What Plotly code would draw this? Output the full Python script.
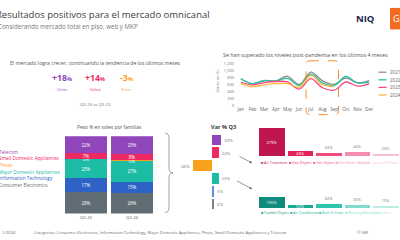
import plotly.graph_objects as go

W, H = 400, 240
def px(x): return x / W
def py(y): return 1 - y / H

# ---------------- data ----------------
months = ["Jan", "Feb", "Mar", "Apr", "May", "Jun", "Jul", "Aug", "Sep", "Oct", "Nov", "Dec"]
sales_2021 = [760, 620, 700, 700, 830, 590, 950, 700, 600, 780, 640, 715]
sales_2022 = [760, 610, 710, 690, 770, 570, 890, 640, 560, 825, 640, 665]
sales_2023 = [665, 580, 650, 680, 670, 460, 760, 500, 430, 665, 545, 620]
sales_2024 = [620, 530, 580, 620, 620, 515, 855, 590, 540]
years = ["2021", "2022", "2023", "2024"]

periods = ["Q3-23", "Q3-24"]
families = ["Consumer Electronics", "Information Technology", "Major Domestic Appliances",
            "Photo", "Small Domestic Appliances", "Telecom"]
share_ce = [28, 26]
share_it = [17, 15]
share_mda = [25, 27]
share_photo = [0.4, 0.4]
share_sda = [7, 8]
share_tel = [22, 23]

var_families = ["Telecom", "Small Domestic Appliances", "Photo",
                "Major Domestic Appliances", "Information Technology", "Consumer Electronics"]
var_q3 = [33, 24, -66, 23, 5, 6]

sda_cats = ["Air Treatment", "Hair Dryers", "Hair Stylers", "Hot Bever. Makers", "El. Juicers/Presses"]
sda_growth = [279, 48, 33, 44, 24]
mda_cats = ["Tumble Dryers", "Air Conditioners", "Built In Hobs", "Washing Machines", "Cookers"]
mda_growth = [105, 32, 34, 30, 15]

kpi_values = ["+18", "+14", "-3"]
kpi_labels = ["Units", "Value", "Price"]

# ---------------- styles ----------------
FONT = "Open Sans"
year_colors = ["#8f8f8f", "#22c4a6", "#f2477b", "#fdb53c"]
fam_colors = {
    "Consumer Electronics": "#616d75",
    "Information Technology": "#2e62c6",
    "Major Domestic Appliances": "#1dbda5",
    "Photo": "#f9a11b",
    "Small Domestic Appliances": "#ef2a62",
    "Telecom": "#9146bb",
}
var_colors = {
    "Consumer Electronics": "#7a8590",
    "Information Technology": "#5b8fe0",
    "Major Domestic Appliances": "#1dbda5",
    "Photo": "#f9a11b",
    "Small Domestic Appliances": "#ef2a62",
    "Telecom": "#9146bb",
}
sda_colors = ["#bf1650", "#e3215b", "#ef4b7c", "#f48dac", "#f9bfd1"]
mda_colors = ["#0f8c7c", "#17a893", "#2fc5ae", "#80dccc", "#bdece4"]
kpi_colors = ["#9146bb", "#ef2a62", "#f9a11b"]

fig = go.Figure()

# ---- line chart ----
for name, vals, col in zip(years, [sales_2021, sales_2022, sales_2023, sales_2024], year_colors):
    fig.add_trace(go.Scatter(x=months[:len(vals)], y=vals, mode="lines",
                             line=dict(color=col, width=1.3, shape="spline", smoothing=1),
                             xaxis="x", yaxis="y", showlegend=False, hoverinfo="skip"))

# ---- stacked share bars ----
share_series = [share_ce, share_it, share_mda, share_photo, share_sda, share_tel]
for fam, vals in zip(families, share_series):
    fig.add_trace(go.Bar(x=periods, y=vals, width=0.913, marker=dict(color=fam_colors[fam], line=dict(width=0)),
                         text=[f"{round(v)}%" for v in vals], textposition="inside", textangle=0,
                         constraintext="none", insidetextanchor="middle",
                         textfont=dict(size=4.5, color="white", family=FONT),
                         xaxis="x2", yaxis="y2", showlegend=False, hoverinfo="skip"))

# ---- var % bars ----
fig.add_trace(go.Bar(x=var_q3, y=var_families, orientation="h", width=0.8,
                     marker=dict(color=[var_colors[f] for f in var_families], line=dict(width=0)),
                     text=[f"{v}%" for v in var_q3], textposition="outside", cliponaxis=False,
                     textfont=dict(size=4.3, color="#777", family=FONT),
                     xaxis="x3", yaxis="y3", showlegend=False, hoverinfo="skip"))

# ---- detail bars ----
def detail(cats, vals, cols, xa, ya):
    pos = ["inside", "inside", "outside", "outside", "outside"]
    fig.add_trace(go.Bar(x=cats, y=vals, width=0.896, marker=dict(color=cols, line=dict(width=0)),
                         text=[f"{v}%" for v in vals], textposition=pos, textangle=0,
                         constraintext="none", insidetextanchor="middle", cliponaxis=False,
                         insidetextfont=dict(size=4, color="white", family=FONT),
                         outsidetextfont=dict(size=4, color="#777", family=FONT),
                         xaxis=xa, yaxis=ya, showlegend=False, hoverinfo="skip"))

detail(sda_cats, sda_growth, sda_colors, "x4", "y4")
detail(mda_cats, mda_growth, mda_colors, "x5", "y5")

hidden = dict(visible=False, showgrid=False, zeroline=False, fixedrange=True)

fig.update_layout(
    width=W, height=H, margin=dict(l=0, r=0, t=0, b=0),
    paper_bgcolor="white", plot_bgcolor="rgba(0,0,0,0)",
    barmode="stack", font=dict(family=FONT, color="#555"),
    xaxis=dict(domain=[px(235), px(375)], range=[-0.5, 11.5], anchor="y", showgrid=False, zeroline=False,
               showline=False, ticks="", tickfont=dict(size=4.6, color="#666")),
    yaxis=dict(domain=[py(104.3), py(61.7)], range=[0, 1200], anchor="x",
               tickvals=[0, 200, 400, 600, 800, 1000, 1200],
               tickformat=",", showgrid=False, zeroline=False, showline=False, ticks="",
               tickfont=dict(size=4, color="#777")),
    xaxis2=dict(domain=[px(63), px(155)], range=[-0.5, 1.5], anchor="y2", showgrid=False, zeroline=False,
                ticks="", tickfont=dict(size=4.3, color="#666")),
    yaxis2=dict(domain=[py(215), py(136)], range=[0, 99.4], anchor="x2", **hidden),
    xaxis3=dict(domain=[px(192), px(241)], range=[-70.6, 102.4], anchor="y3", **hidden),
    yaxis3=dict(domain=[py(212.2), py(133)], range=[5.5, -0.5], type="category", anchor="x3",
                categoryarray=var_families, **hidden),
    xaxis4=dict(domain=[px(257.7), 1.0], range=[-0.5, 4.5], anchor="y4", **hidden),
    yaxis4=dict(domain=[py(156.7), py(125.1)], range=[0, 300], anchor="x4", **hidden),
    xaxis5=dict(domain=[px(257.7), 1.0], range=[-0.5, 4.5], anchor="y5", **hidden),
    yaxis5=dict(domain=[py(209.3), py(177.7)], range=[0, 300], anchor="x5", **hidden),
)

anns = []
def ann(text, x, y, size, color="#555", xanchor="left", **kw):
    anns.append(dict(text=text, x=px(x), y=py(y), xref="paper", yref="paper", showarrow=False,
                     xanchor=xanchor, yanchor="middle", font=dict(size=size, color=color, family=FONT), **kw))

# header
ann("Resultados positivos para el mercado omnicanal", -6.5, 12, 9.5, "#404040")
ann("Considerando mercado total en piso, web y MKP", -4.5, 24, 6.2, "#777")
ann("<b>NIQ</b>", 354, 15.5, 9.5, "#1b1f4b")
ann("GfK", 391, 16, 9, "white")

# KPI block
ann("El mercado logra crecer, continuando la tendencia de los últimos meses", 8, 61.5, 5.1, "#555")
for val, lab, col, cx in zip(kpi_values, kpi_labels, kpi_colors, [61.5, 95, 126.5]):
    ann(f"<b>{val}</b><span style='font-size:5.5px'><b>%</b></span>", cx, 77, 8.8, col, xanchor="center")
    ann(lab, cx, 88.3, 4.2, col, xanchor="center")
ann("Q3-24 vs Q3-23", 95, 102.7, 4.3, "#777", xanchor="center")

# line chart texts
ann("Se han superado los niveles post-pandemia en los últimos 4 meses", 305.5, 53.3, 5.3, "#555", xanchor="center")
ann("Venta en S/.", 217.5, 79, 4.3, "#777", xanchor="center", textangle=-90)
for i, (name, col) in enumerate(zip(years, year_colors)):
    yy = 70.7 + i * 7.75
    fig.add_shape(type="line", xref="paper", yref="paper", x0=px(378.5), x1=px(386.5), y0=py(yy), y1=py(yy),
                  line=dict(color=col, width=1.3))
    ann(name, 388, yy, 4.5, "#666")

# dashed highlight box
x0, x1, y0, y1, r = 306, 338.5, 59, 114, 4
path = (f"M {px(x0+r)},{py(y0)} L {px(x1-r)},{py(y0)} Q {px(x1)},{py(y0)} {px(x1)},{py(y0+r)} "
        f"L {px(x1)},{py(y1-r)} Q {px(x1)},{py(y1)} {px(x1-r)},{py(y1)} L {px(x0+r)},{py(y1)} "
        f"Q {px(x0)},{py(y1)} {px(x0)},{py(y1-r)} L {px(x0)},{py(y0+r)} Q {px(x0)},{py(y0)} {px(x0+r)},{py(y0)} Z")
fig.add_shape(type="path", xref="paper", yref="paper", path=path,
              line=dict(color="#f58a2c", width=1, dash="dash"))

# GfK box
fig.add_shape(type="rect", xref="paper", yref="paper", x0=px(390), x1=px(412), y0=py(27), y1=py(5),
              fillcolor="#f26b21", line=dict(width=0), layer="below")

# stacked chart texts
ann("Peso % en soles por familias", 109, 126.7, 4.9, "#555", xanchor="center")
legend_y = {"Telecom": 152, "Small Domestic Appliances": 158.8, "Photo": 165.7,
            "Major Domestic Appliances": 172.3, "Information Technology": 179, "Consumer Electronics": 185.7}
for fam in reversed(families):
    ann(fam, -3, legend_y[fam], 4.8, fam_colors[fam])

# bracket
bx, top, mid, bot = 165, 133, 173.5, 214
bpath = (f"M {px(bx)},{py(top)} Q {px(bx+4)},{py(top)} {px(bx+4)},{py(top+5)} L {px(bx+4)},{py(mid-5)} "
         f"Q {px(bx+4)},{py(mid)} {px(bx+8)},{py(mid)} Q {px(bx+4)},{py(mid)} {px(bx+4)},{py(mid+5)} "
         f"L {px(bx+4)},{py(bot-5)} Q {px(bx+4)},{py(bot)} {px(bx)},{py(bot)}")
fig.add_shape(type="path", xref="paper", yref="paper", path=bpath, line=dict(color="#8a8a8a", width=0.8))

# var chart title
ann("<b>Var % Q3</b>", 223, 126.5, 5.6, "#3a3a3a", xanchor="center")

# arrows
for (hx, hy, tx, ty) in [(252, 163.4, 238, 156), (252, 190, 235.5, 181)]:
    anns.append(dict(x=px(hx), y=py(hy), xref="paper", yref="paper", ax=tx - hx, ay=ty - hy,
                     axref="pixel", ayref="pixel", text="", showarrow=True, arrowhead=2,
                     arrowsize=0.8, arrowwidth=0.6, arrowcolor="#555"))

# detail legends
for cats, cols, xs, yy in [(sda_cats, sda_colors, [258.5, 286.7, 310.7, 334.3, 362.7], 163.3),
                           (mda_cats, mda_colors, [258.5, 287.7, 316.7, 343.3, 371.7], 214.3)]:
    for c, col, x in zip(cats, cols, xs):
        ann(f"■ {c}", x, yy, 3.6, col)

# footer
ann("1/2024", -0.5, 234.5, 4.2, "#666")
ann("Categorías: Consumer Electronics, Information Technology, Major Domestic Appliances, Photo, "
    "Small Domestic Appliances y Telecom", 32, 234.5, 4.1, "#666")
ann("© GfK", 355, 234.5, 4.1, "#666")

fig.update_layout(annotations=anns)
fig.write_html("out.html")
